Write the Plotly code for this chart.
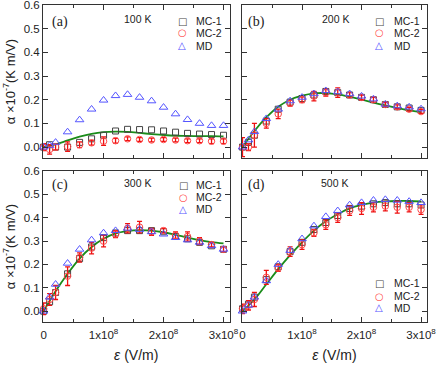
import plotly.graph_objects as go

# field values (units of 1e8 V/m)
field = [0, 0.1, 0.2, 0.4, 0.6, 0.8, 1.0, 1.2, 1.4, 1.6, 1.8, 2.0, 2.2, 2.4, 2.6, 2.8, 3.0]
fit_field = [0, 0.2, 0.4, 0.6, 0.8, 1.0, 1.2, 1.4, 1.6, 1.8, 2.0, 2.2, 2.4, 2.6, 2.8, 3.0]

# 100 K
mc1_100 = [0.0, 0.01, 0.0, 0.0, 0.02, 0.035, 0.05, 0.068, 0.075, 0.074, 0.073, 0.068, 0.063, 0.058, 0.055, 0.053, 0.05]
mc2_100 = [0.0, -0.01, 0.0, 0.002, 0.01, 0.018, 0.025, 0.027, 0.035, 0.032, 0.03, 0.032, 0.03, 0.027, 0.027, 0.025, 0.025]
err_100 = [0.015, 0.02, 0.012, 0.02, 0.012, 0.01, 0.018, 0.01, 0.008, 0.008, 0.008, 0.008, 0.008, 0.008, 0.008, 0.01, 0.01]
md_100 = [0.0, 0.007, 0.02, 0.064, 0.115, 0.16, 0.198, 0.217, 0.222, 0.21, 0.195, 0.168, 0.14, 0.116, 0.1, 0.091, 0.091]
fit_100 = [0, 0.012, 0.028, 0.044, 0.056, 0.063, 0.065, 0.064, 0.06, 0.055, 0.051, 0.048, 0.047, 0.046, 0.046, 0.045]

# 200 K
mc1_200 = [0.0, 0.02, 0.05, 0.11, 0.16, 0.19, 0.205, 0.22, 0.235, 0.23, 0.22, 0.21, 0.2, 0.18, 0.17, 0.165, 0.155]
mc2_200 = [0.0, 0.0, 0.05, 0.1, 0.14, 0.185, 0.2, 0.215, 0.23, 0.23, 0.22, 0.21, 0.2, 0.18, 0.17, 0.16, 0.15]
err_200 = [0.04, 0.015, 0.05, 0.02, 0.02, 0.012, 0.012, 0.02, 0.015, 0.02, 0.01, 0.01, 0.01, 0.008, 0.008, 0.008, 0.008]
md_200 = [0.0, 0.03, 0.065, 0.12, 0.16, 0.195, 0.21, 0.225, 0.238, 0.233, 0.225, 0.215, 0.203, 0.181, 0.174, 0.169, 0.161]
fit_200 = [0, 0.068, 0.125, 0.17, 0.2, 0.217, 0.227, 0.228, 0.223, 0.213, 0.201, 0.188, 0.176, 0.165, 0.155, 0.148]

# 300 K
mc1_300 = [0.0, 0.04, 0.08, 0.16, 0.225, 0.275, 0.315, 0.335, 0.345, 0.345, 0.345, 0.34, 0.32, 0.31, 0.295, 0.28, 0.265]
mc2_300 = [0.01, 0.05, 0.08, 0.15, 0.23, 0.27, 0.3, 0.33, 0.355, 0.36, 0.34, 0.345, 0.325, 0.32, 0.3, 0.285, 0.265]
err_300 = [0.025, 0.025, 0.03, 0.04, 0.02, 0.025, 0.025, 0.015, 0.02, 0.025, 0.015, 0.01, 0.015, 0.02, 0.015, 0.01, 0.01]
md_300 = [0.0, 0.06, 0.115, 0.205, 0.265, 0.305, 0.335, 0.345, 0.355, 0.35, 0.34, 0.33, 0.315, 0.305, 0.295, 0.28, 0.265]
fit_300 = [0, 0.085, 0.16, 0.225, 0.275, 0.31, 0.333, 0.343, 0.347, 0.345, 0.338, 0.327, 0.315, 0.304, 0.296, 0.29]

# 500 K
mc1_500 = [0.01, 0.03, 0.06, 0.135, 0.19, 0.255, 0.295, 0.35, 0.38, 0.41, 0.44, 0.45, 0.46, 0.465, 0.46, 0.46, 0.455]
mc2_500 = [0.01, 0.025, 0.05, 0.145, 0.185, 0.255, 0.285, 0.335, 0.37, 0.4, 0.43, 0.44, 0.445, 0.45, 0.445, 0.445, 0.435]
err_500 = [0.02, 0.02, 0.03, 0.03, 0.015, 0.02, 0.02, 0.015, 0.02, 0.02, 0.02, 0.025, 0.02, 0.02, 0.025, 0.02, 0.02]
md_500 = [0.0, 0.025, 0.06, 0.13, 0.2, 0.26, 0.31, 0.365, 0.405, 0.43, 0.455, 0.465, 0.475, 0.478, 0.475, 0.47, 0.465]
fit_500 = [0, 0.05, 0.115, 0.18, 0.24, 0.295, 0.345, 0.385, 0.415, 0.44, 0.455, 0.465, 0.47, 0.472, 0.472, 0.47]

panels = [
    ("(a)", "100 K", mc1_100, mc2_100, err_100, md_100, fit_100),
    ("(b)", "200 K", mc1_200, mc2_200, err_200, md_200, fit_200),
    ("(c)", "300 K", mc1_300, mc2_300, err_300, md_300, fit_300),
    ("(d)", "500 K", mc1_500, mc2_500, err_500, md_500, fit_500),
]
series_names = ["MC-1", "MC-2", "MD"]

x = [v * 1e8 for v in field]
xf = [v * 1e8 for v in fit_field]

SANS = "Liberation Sans"
SERIF = "Liberation Serif"
AX = "#333333"
C_MC1, C_MC2, C_MD = "#454545", "#ff4848", "#5555ff"

dom_x = [[0, 0.4857], [0.518, 1], [0, 0.4857], [0.518, 1]]
dom_y = [[0.517, 1], [0.517, 1], [0, 0.476], [0, 0.476]]

fig = go.Figure()
layout = {}
for i, (tag, temp, mc1, mc2, err, md, fit) in enumerate(panels):
    n = "" if i == 0 else str(i + 1)
    xa, ya = "x" + n, "y" + n
    fig.add_trace(go.Scatter(x=xf, y=fit, xaxis=xa, yaxis=ya, mode="lines",
                             line=dict(color="#1a8c1a", width=1.8, shape="spline"),
                             showlegend=False, hoverinfo="skip"))
    fig.add_trace(go.Scatter(x=x, y=mc1, xaxis=xa, yaxis=ya, mode="markers", name="MC-1",
                             showlegend=False, cliponaxis=False,
                             marker=dict(symbol="square-open", size=6, color=C_MC1,
                                         line=dict(width=1))))
    fig.add_trace(go.Scatter(x=x, y=mc2, xaxis=xa, yaxis=ya, mode="markers", name="MC-2",
                             showlegend=False, cliponaxis=False,
                             error_y=dict(type="data", array=err, color="#ee1111",
                                          thickness=1.3, width=2.5),
                             marker=dict(symbol="circle-open", size=6.5, color=C_MC2,
                                         line=dict(width=1))))
    fig.add_trace(go.Scatter(x=x, y=md, xaxis=xa, yaxis=ya, mode="markers", name="MD",
                             showlegend=False, cliponaxis=False,
                             marker=dict(symbol="triangle-up-open", size=7.5, color=C_MD,
                                         line=dict(width=1))))

    bottom = i >= 2
    left = i % 2 == 0
    layout["xaxis" + n] = dict(
        domain=dom_x[i], anchor=ya, range=[-0.01e8, 3.1e8], automargin=False,
        tickvals=[0, 1e8, 2e8, 3e8],
        ticktext=["0", "1x10<sup>8</sup>", "2x10<sup>8</sup>", "3x10<sup>8</sup>"],
        showticklabels=bottom, ticks="inside", ticklen=5, tickcolor=AX,
        ticklabeloverflow="allow", ticklabelstandoff=2,
        minor=dict(dtick=0.5e8, tick0=0, ticks="inside", ticklen=3, tickcolor=AX),
        showline=True, linecolor=AX, linewidth=1, mirror="ticks",
        showgrid=False, zeroline=False,
        tickfont=dict(family=SANS, size=11.5, color="#222"),
    )
    if bottom:
        layout["xaxis" + n]["title"] = dict(text="<i>ε</i> (V/m)", standoff=10,
                                            font=dict(family=SANS, size=14, color="#222"))
    layout["yaxis" + n] = dict(
        domain=dom_y[i], anchor=xa, range=[-0.0465, 0.6], automargin=False,
        tickvals=[0, 0.1, 0.2, 0.3, 0.4, 0.5, 0.6],
        ticktext=["0.0", "0.1", "0.2", "0.3", "0.4", "0.5", "0.6"],
        showticklabels=left, ticks="inside", ticklen=5, tickcolor=AX,
        ticklabeloverflow="allow",
        showline=True, linecolor=AX, linewidth=1, mirror="ticks",
        showgrid=False, zeroline=False,
        tickfont=dict(family=SANS, size=11.5, color="#222"),
    )
    if left:
        layout["yaxis" + n]["title"] = dict(text="α ×10<sup>-7</sup>(K m/V)", standoff=5,
                                            font=dict(family=SANS, size=13, color="#222"))

fig.update_layout(**layout)

annots = []
label_xy = [(0.018, 0.947), (0.529, 0.947), (0.018, 0.432), (0.529, 0.432)]
temp_xy = [(0.247, 0.956), (0.762, 0.956), (0.246, 0.438), (0.758, 0.438)]
# legend glyph column, text column, and three row positions per panel (paper coords)
legend_cols = [(0.362, 0.394), (0.875, 0.909), (0.365, 0.394), (0.875, 0.909)]
legend_rows = [(0.9495, 0.9117, 0.8707), (0.9495, 0.9117, 0.8707),
               (0.432, 0.394, 0.356), (0.122, 0.082, 0.045)]
glyphs = [("□", C_MC1), ("○", C_MC2), ("△", C_MD)]

for i, p in enumerate(panels):
    annots.append(dict(text=p[0], x=label_xy[i][0], y=label_xy[i][1], xref="paper", yref="paper",
                       xanchor="left", yanchor="middle", showarrow=False,
                       font=dict(family=SERIF, size=14, color="#222")))
    annots.append(dict(text=p[1], x=temp_xy[i][0], y=temp_xy[i][1], xref="paper", yref="paper",
                       xanchor="center", yanchor="middle", showarrow=False,
                       font=dict(family=SANS, size=10.5, color="#222")))
    gx, tx = legend_cols[i]
    for (g, col), name, ry in zip(glyphs, series_names, legend_rows[i]):
        annots.append(dict(text=g, x=gx, y=ry, xref="paper", yref="paper",
                           xanchor="center", yanchor="middle", showarrow=False,
                           font=dict(family="DejaVu Sans", size=10, color=col)))
        annots.append(dict(text=name, x=tx, y=ry, xref="paper", yref="paper",
                           xanchor="left", yanchor="middle", showarrow=False,
                           font=dict(family=SANS, size=10.5, color="#222")))

fig.update_layout(
    width=436, height=367,
    margin=dict(l=43, r=9, t=5, b=45),
    paper_bgcolor="white", plot_bgcolor="white",
    annotations=annots, showlegend=False,
)

# drop the default 8px page margin so the figure sits at the window's corner
fig.write_html("out.html", config={"displayModeBar": False},
               post_script="document.body.style.margin='0';")
